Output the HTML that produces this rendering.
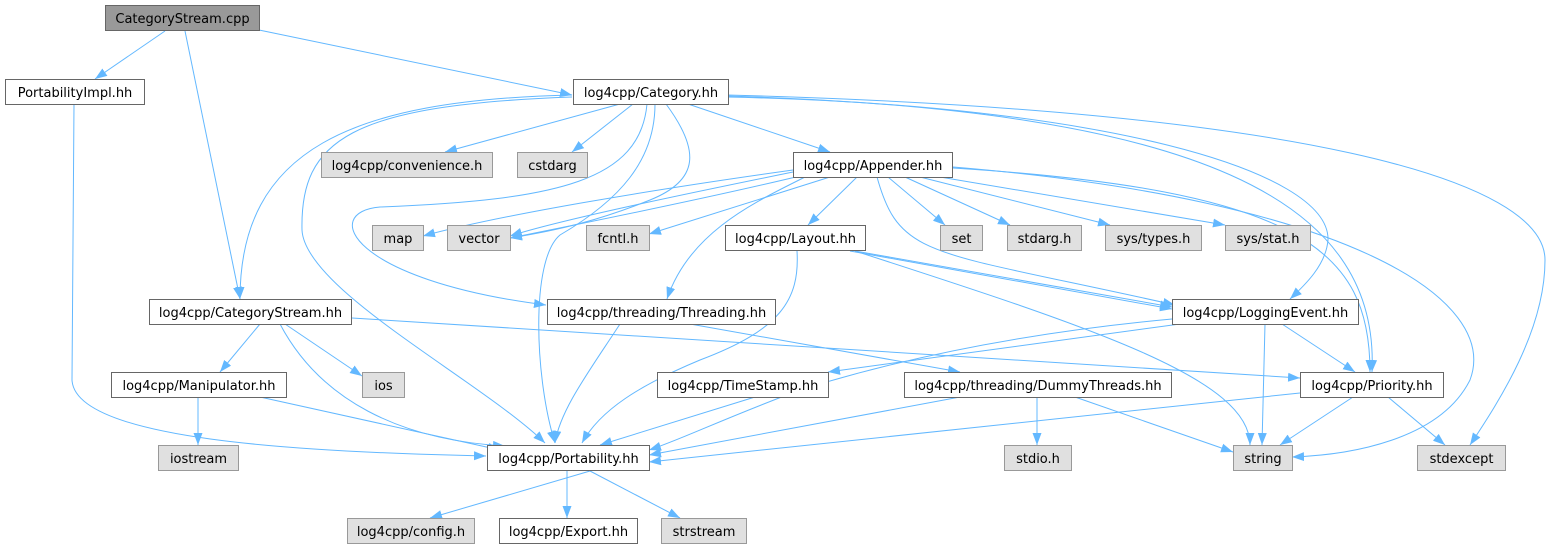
<!DOCTYPE html>
<html><head><meta charset="utf-8"><style>
html,body{margin:0;padding:0;background:#fff;}
svg text{font-family:"DejaVu Sans","Liberation Sans",sans-serif;font-size:13px;fill:#000;}
</style></head><body>
<svg width="1556" height="549" viewBox="0 0 1556 549" xmlns="http://www.w3.org/2000/svg">
<defs>
<marker id="a" viewBox="0 0 12 10" refX="12" refY="5" markerWidth="12" markerHeight="10" markerUnits="userSpaceOnUse" orient="auto">
<path d="M0,0.5 L12,5 L0,9.5 z" fill="#63b8ff"/>
</marker>
</defs>
<g fill="none" stroke="#63b8ff" stroke-width="1" marker-end="url(#a)">
<path d="M165,31 L95,79"/>
<path d="M185,31 L240,299"/>
<path d="M259,30 L572,95"/>
<path d="M74,104 L72,380 C75,440 300,452 486,456"/>
<path d="M620,104 L445,152"/>
<path d="M633,104 L572,152"/>
<path d="M688,104 L830,152"/>
<path d="M572,95 C350,100 240,150 240,299"/>
<path d="M572,97 C350,105 300,140 302,230 C305,290 480,380 545,443"/>
<path d="M647,104 C640,180 560,200 380,207 C320,212 350,280 546,305"/>
<path d="M655,104 C655,160 620,200 560,235 C530,260 535,380 555,443"/>
<path d="M666,104 C700,150 700,180 650,200 C600,220 560,230 510,238"/>
<path d="M727,97 C1100,105 1330,170 1328,240 C1326,265 1305,285 1290,299"/>
<path d="M727,96 C1200,110 1380,200 1372,372"/>
<path d="M727,95 C1300,110 1545,180 1545,260 C1545,330 1500,400 1470,445"/>
<path d="M793,170 C650,190 500,215 423,236"/>
<path d="M793,172 C680,195 560,220 510,236"/>
<path d="M800,176 C700,200 560,228 510,238"/>
<path d="M830,177 L649,234"/>
<path d="M857,177 L808,225"/>
<path d="M805,177 C760,200 690,230 667,299"/>
<path d="M877,177 C900,260 930,250 1175,305"/>
<path d="M888,177 L945,225"/>
<path d="M905,177 L1010,225"/>
<path d="M920,177 L1110,225"/>
<path d="M940,177 L1225,225"/>
<path d="M953,168 C1300,190 1370,250 1370,372"/>
<path d="M953,167 C1350,200 1500,300 1470,380 C1440,440 1350,455 1292,457"/>
<path d="M855,251 L1172,307"/>
<path d="M850,251 L1172,309"/>
<path d="M855,251 C1100,330 1250,380 1250,445"/>
<path d="M797,251 C800,300 780,330 700,360 C640,385 600,410 582,443"/>
<path d="M260,324 L220,372"/>
<path d="M285,324 L362,376"/>
<path d="M280,324 C320,400 400,440 505,446"/>
<path d="M352,318 L1300,378"/>
<path d="M620,324 C590,370 560,410 555,443"/>
<path d="M690,324 L960,372"/>
<path d="M1180,324 L828,372"/>
<path d="M1172,319 C1000,335 880,365 800,390 C720,420 680,440 649,450"/>
<path d="M1265,324 L1262,445"/>
<path d="M1282,324 L1355,372"/>
<path d="M198,397 L198,445"/>
<path d="M260,397 L500,450"/>
<path d="M755,397 L600,445"/>
<path d="M960,397 L649,455"/>
<path d="M1037,397 L1037,445"/>
<path d="M1075,397 L1233,452"/>
<path d="M1300,393 L649,462"/>
<path d="M1353,397 L1280,445"/>
<path d="M1388,397 L1445,445"/>
<path d="M590,471 L430,518"/>
<path d="M567,471 L567,518"/>
<path d="M590,471 L680,518"/>
</g>
<g stroke-width="1">
<rect x="105.5" y="5.5" width="154" height="25" fill="#999" stroke="#666"/>
<g fill="#fff" stroke="#666">
<rect x="5.5" y="79.5" width="139" height="25"/>
<rect x="573.5" y="79.5" width="155" height="25"/>
<rect x="793.5" y="152.5" width="159" height="25"/>
<rect x="725.5" y="225.5" width="140" height="25"/>
<rect x="149.5" y="299.5" width="202" height="25"/>
<rect x="547.5" y="299.5" width="228" height="25"/>
<rect x="1172.5" y="299.5" width="186" height="25"/>
<rect x="111.5" y="372.5" width="175" height="25"/>
<rect x="657.5" y="372.5" width="171" height="25"/>
<rect x="904.5" y="372.5" width="267" height="25"/>
<rect x="1300.5" y="372.5" width="143" height="25"/>
<rect x="487.5" y="445.5" width="162" height="25"/>
<rect x="499.5" y="518.5" width="138" height="25"/>
</g>
<g fill="#e0e0e0" stroke="#999">
<rect x="321.5" y="152.5" width="171" height="25"/>
<rect x="517.5" y="152.5" width="70" height="25"/>
<rect x="372.5" y="225.5" width="51" height="25"/>
<rect x="447.5" y="225.5" width="63" height="25"/>
<rect x="586.5" y="225.5" width="63" height="25"/>
<rect x="940.5" y="225.5" width="42" height="25"/>
<rect x="1007.5" y="225.5" width="74" height="25"/>
<rect x="1105.5" y="225.5" width="96" height="25"/>
<rect x="1225.5" y="225.5" width="85" height="25"/>
<rect x="362.5" y="372.5" width="42" height="25"/>
<rect x="158.5" y="445.5" width="80" height="25"/>
<rect x="1004.5" y="445.5" width="67" height="25"/>
<rect x="1233.5" y="445.5" width="59" height="25"/>
<rect x="1417.5" y="445.5" width="88" height="25"/>
<rect x="347.5" y="518.5" width="127" height="25"/>
<rect x="661.5" y="518.5" width="85" height="25"/>
</g>
</g>
<g text-anchor="middle">
<text x="182.5" y="23">CategoryStream.cpp</text>
<text x="75" y="97">PortabilityImpl.hh</text>
<text x="651" y="97">log4cpp/Category.hh</text>
<text x="873" y="170">log4cpp/Appender.hh</text>
<text x="795.5" y="243">log4cpp/Layout.hh</text>
<text x="250.5" y="317">log4cpp/CategoryStream.hh</text>
<text x="661.5" y="317">log4cpp/threading/Threading.hh</text>
<text x="1265.5" y="317">log4cpp/LoggingEvent.hh</text>
<text x="199" y="390">log4cpp/Manipulator.hh</text>
<text x="743" y="390">log4cpp/TimeStamp.hh</text>
<text x="1038" y="390">log4cpp/threading/DummyThreads.hh</text>
<text x="1372" y="390">log4cpp/Priority.hh</text>
<text x="568.5" y="463">log4cpp/Portability.hh</text>
<text x="568.5" y="536">log4cpp/Export.hh</text>
<text x="407" y="170">log4cpp/convenience.h</text>
<text x="552.5" y="170">cstdarg</text>
<text x="398" y="243">map</text>
<text x="479" y="243">vector</text>
<text x="618" y="243">fcntl.h</text>
<text x="961.5" y="243">set</text>
<text x="1044.5" y="243">stdarg.h</text>
<text x="1153.5" y="243">sys/types.h</text>
<text x="1268" y="243">sys/stat.h</text>
<text x="383.5" y="390">ios</text>
<text x="198.5" y="463">iostream</text>
<text x="1038" y="463">stdio.h</text>
<text x="1263" y="463">string</text>
<text x="1461.5" y="463">stdexcept</text>
<text x="411" y="536">log4cpp/config.h</text>
<text x="704" y="536">strstream</text>
</g>
</svg>
</body></html>
